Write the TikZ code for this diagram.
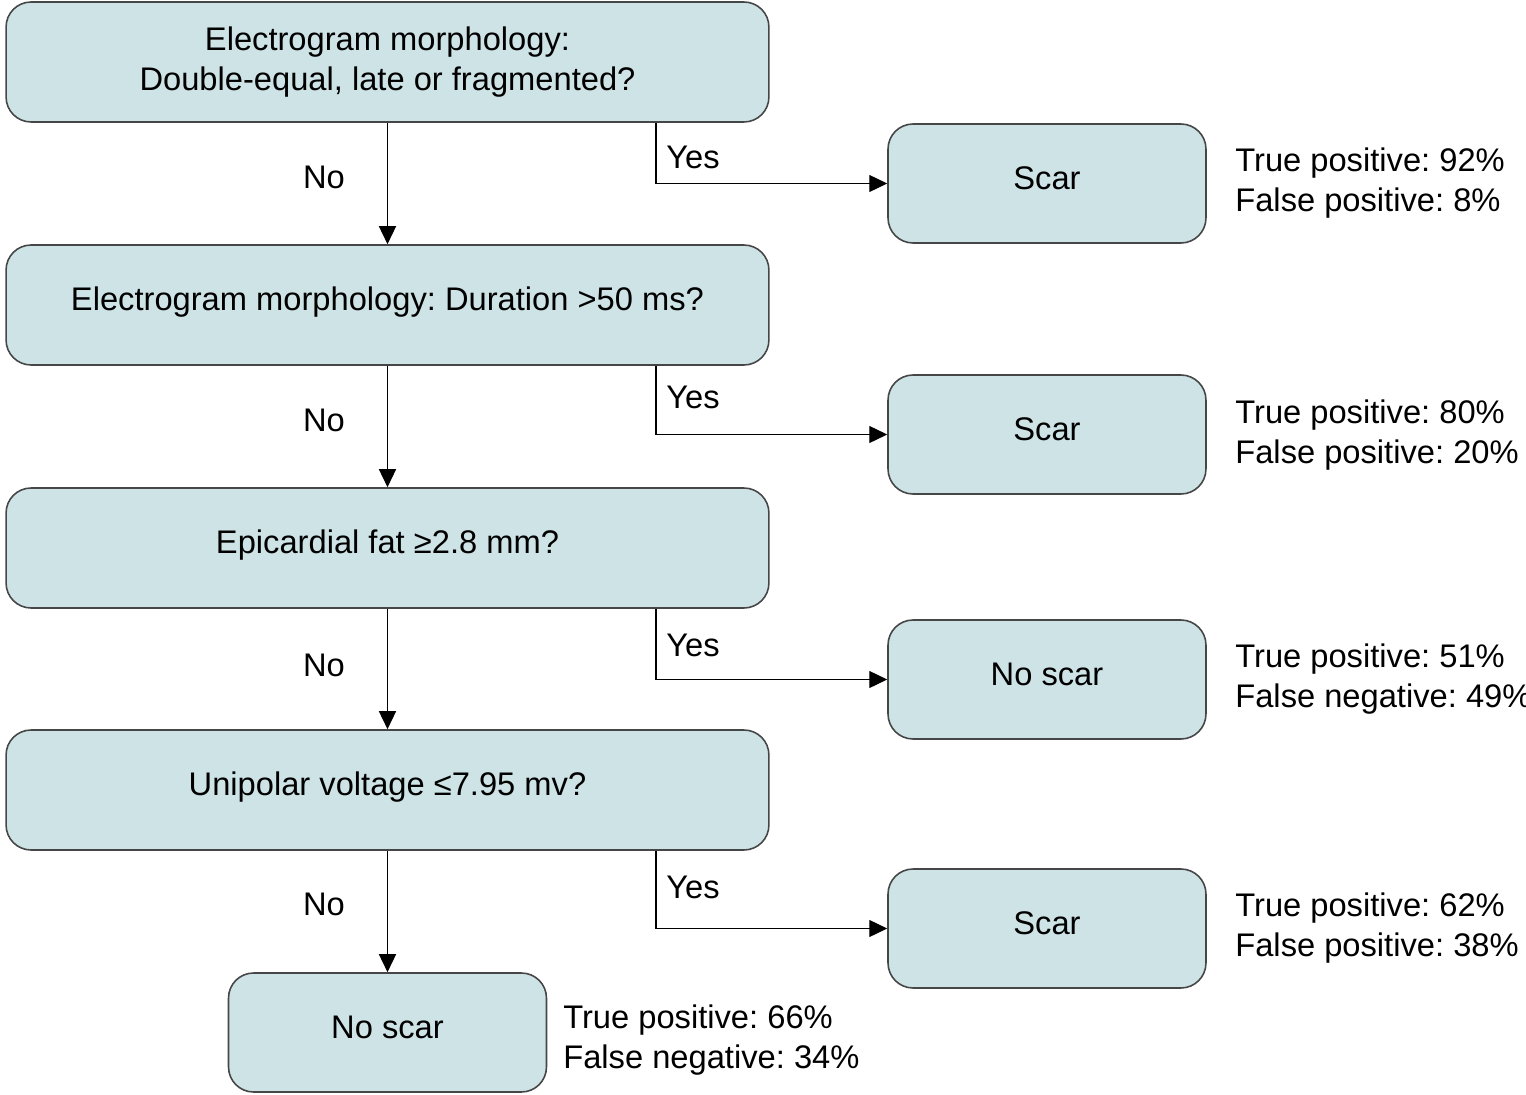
\documentclass[tikz,border=0pt]{standalone}
\usepackage{fontspec}
\setmainfont{Liberation Sans}
\usetikzlibrary{arrows.meta}
\definecolor{boxfill}{RGB}{205,227,230}
\definecolor{boxline}{RGB}{70,70,70}
\frenchspacing
\begin{document}
\begin{tikzpicture}[x=0.02cm,y=-0.02cm,
  font=\fontsize{18.6}{22.7}\selectfont,
  box/.style={draw=boxline,line width=0.9pt,fill=boxfill,rounded corners=0.5cm,align=center,inner sep=0pt},
  bigbox/.style={box,minimum width=15.26cm,minimum height=2.4cm},
  oneline/.style={text height=14pt,text depth=7.4pt},
  smallbox/.style={box,oneline,minimum width=6.36cm,minimum height=2.38cm},
  arr/.style={line width=0.8pt,-{Triangle[length=0.36cm,width=0.34cm]}},
  lbl/.style={inner sep=0pt},
  stat/.style={inner sep=0pt,anchor=west,align=left}]
\useasboundingbox (0,0) rectangle (1526,1095);
\node[bigbox] (b1) at (387.5,62) {Electrogram morphology:\\Double-equal, late or fragmented?};
\node[bigbox,oneline] (b2) at (387.5,305) {Electrogram morphology: Duration {>}50 ms?};
\node[bigbox,oneline] (b3) at (387.5,548) {Epicardial fat ≥2.8 mm?};
\node[bigbox,oneline] (b4) at (387.5,790) {Unipolar voltage ≤7.95 mv?};
\node[smallbox] (b5) at (387.5,1032.5) {No scar};
\node[smallbox] (r1) at (1047,183.5) {Scar};
\node[smallbox] (r2) at (1047,434.5) {Scar};
\node[smallbox] (r3) at (1047,679.5) {No scar};
\node[smallbox] (r4) at (1047,928.5) {Scar};
\coordinate (yx) at (656,0);
\draw[arr] (b1) -- (b2);
\draw[arr] (b2) -- (b3);
\draw[arr] (b3) -- (b4);
\draw[arr] (b4.south) -- (b5.north);
\draw[arr] (b1.south -| yx) |- (r1.west);
\draw[arr] (b2.south -| yx) |- (r2.west);
\draw[arr] (b3.south -| yx) |- (r3.west);
\draw[arr] (b4.south -| yx) |- (r4.west);
\node[lbl] (n1) at (324,177) {No};
\node[lbl] (n2) at (324,420) {No};
\node[lbl] (n3) at (324,665) {No};
\node[lbl] (n4) at (324,904) {No};
\node[lbl,anchor=west] (y1) at (666,157) {Yes};
\node[lbl,anchor=west] (y2) at (666,397) {Yes};
\node[lbl,anchor=west] (y3) at (666,645) {Yes};
\node[lbl,anchor=west] (y4) at (666,887) {Yes};
\node[stat] (s1) at (1235,183) {True positive: 92\%\\False positive: 8\%};
\node[stat] (s2) at (1235,435) {True positive: 80\%\\False positive: 20\%};
\node[stat] (s3) at (1235,679) {True positive: 51\%\\False negative: 49\%};
\node[stat] (s4) at (1235,928) {True positive: 62\%\\False positive: 38\%};
\node[stat] (s5) at (563,1040) {True positive: 66\%\\False negative: 34\%};
\end{tikzpicture}
\end{document}
